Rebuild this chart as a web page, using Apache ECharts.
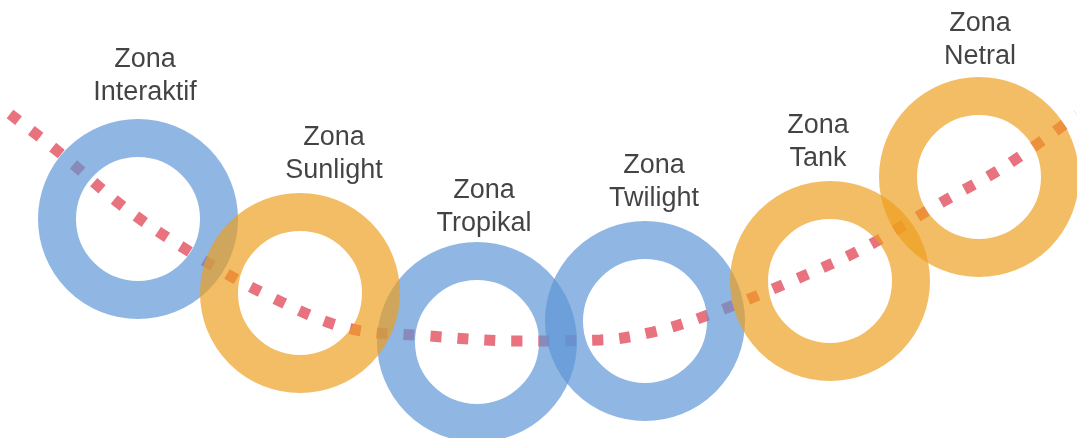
<!DOCTYPE html>
<html>
<head>
<meta charset="utf-8">
<title>Zona</title>
<script src="https://cdn.jsdelivr.net/npm/echarts@6/dist/echarts.min.js"></script>
<style>
  html, body { margin: 0; padding: 0; background: #fff; }
  #chart { width: 1077px; height: 438px; }
</style>
</head>
<body>
<div id="chart"></div>
<script>
// zone names, one ring per zone
const zones = ['Interaktif', 'Sunlight', 'Tropikal', 'Twilight', 'Tank', 'Netral'];
const ringTone = ['blue', 'orange', 'blue', 'blue', 'orange', 'orange'];
// ring centres, in the picture's own units (x right, y down)
const ringX = [138, 300, 477, 645, 830, 979];
const ringY = [219, 293, 342, 321, 281, 177];
// where each two-line caption sits
const labelX = [145, 334, 484, 654, 818, 980];
const labelY = [76, 154, 207, 182, 142, 40];
// the dotted path that threads through the rings
const pathX = [10, 60, 125, 195, 267, 347, 430, 515, 600, 653, 708, 787, 864, 937, 1007, 1077];
const pathY = [114, 153, 208, 255, 295, 328, 336, 341, 340, 332, 315, 283, 248, 205, 165, 115];

const TONES = {
  blue: 'rgba(93,148,214,0.85)',
  orange: 'rgba(238,158,30,0.85)',
};

const chart = echarts.init(document.getElementById('chart'), null, { renderer: 'canvas' });

function ringSeries(tone) {
  return {
    type: 'scatter',
    silent: true,
    z: 3,
    symbol: 'circle',
    symbolSize: 162,
    itemStyle: {
      color: 'transparent',
      borderColor: TONES[tone],
      borderWidth: 38,
    },
    data: zones
      .map((z, i) => (ringTone[i] === tone ? [ringX[i], ringY[i], z] : null))
      .filter(Boolean),
  };
}

chart.setOption({
  animation: false,
  backgroundColor: '#fff',
  grid: { left: 0, right: 0, top: 0, bottom: 0, containLabel: false },
  xAxis: { type: 'value', min: 0, max: 1077, show: false },
  yAxis: { type: 'value', min: 0, max: 438, inverse: true, show: false },
  series: [
    {
      // the path sits under the rings, so they tint it where they cross
      type: 'line',
      silent: true,
      z: 1,
      smooth: 0.35,
      symbol: 'none',
      lineStyle: { color: '#e8737f', width: 11, type: [11, 16], cap: 'butt' },
      data: pathX.map((x, i) => [x, pathY[i]]),
    },
    ringSeries('blue'),
    ringSeries('orange'),
    {
      type: 'scatter',
      silent: true,
      z: 4,
      symbolSize: 0,
      label: {
        show: true,
        position: 'inside',
        formatter: (p) => 'Zona\n' + p.value[2],
        fontFamily: '"Liberation Sans", Arial, sans-serif',
        fontSize: 27,
        lineHeight: 33,
        color: '#141414',
        align: 'center',
        verticalAlign: 'middle',
      },
      data: zones.map((z, i) => [labelX[i], labelY[i], z]),
    },
  ],
});
</script>
</body>
</html>
